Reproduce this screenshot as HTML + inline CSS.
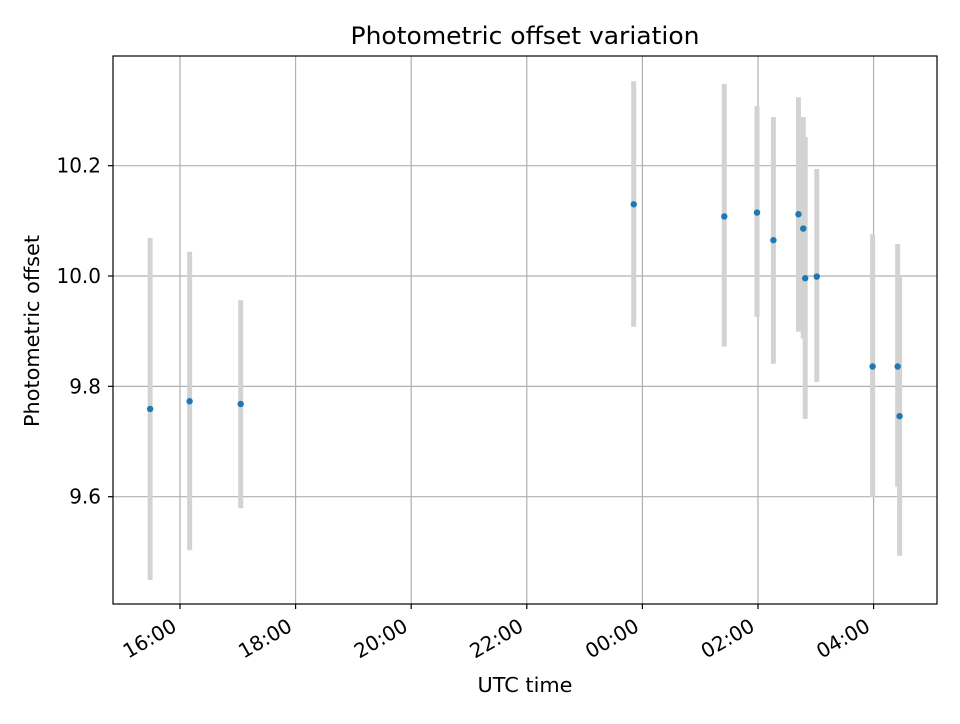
<!DOCTYPE html>
<html><head><meta charset="utf-8"><style>
body{margin:0;background:#fff;font-family:"DejaVu Sans","Liberation Sans",sans-serif}
svg text{font-family:"DejaVu Sans","Liberation Sans",sans-serif}
</style></head><body>
<svg width="960" height="720" xmlns="http://www.w3.org/2000/svg">
<rect width="960" height="720" fill="#fff"/>
<g id="grid"></g>
<g id="bars"></g>
<g id="pts"></g>
<rect x="113" y="56" width="824" height="548" fill="none" stroke="#000" stroke-width="1.2"/>
<g id="ticks"></g>
<text x="525" y="44" font-size="24" text-anchor="middle" textLength="349" lengthAdjust="spacingAndGlyphs">Photometric offset variation</text>
<text x="525" y="692" font-size="20" text-anchor="middle" textLength="95" lengthAdjust="spacingAndGlyphs">UTC time</text>
<text x="39" y="331" font-size="20" text-anchor="middle" transform="rotate(-90 39 331)" textLength="192" lengthAdjust="spacingAndGlyphs">Photometric offset</text>
</svg>
<script>
const times = ["15:29","16:10","17:03","23:51","01:25","01:59","02:16","02:42","02:47","02:49","03:01","03:59","04:25","04:27"];
const offsets = [9.759,9.773,9.768,10.130,10.108,10.115,10.065,10.112,10.086,9.996,9.999,9.836,9.836,9.746];
const upper = [10.069,10.044,9.956,10.353,10.348,10.308,10.288,10.324,10.288,10.252,10.194,10.076,10.058,10.000];
const lower = [9.449,9.503,9.579,9.908,9.872,9.926,9.841,9.899,9.887,9.741,9.808,9.599,9.618,9.493];
const xTickLabels = ["16:00","18:00","20:00","22:00","00:00","02:00","04:00"];
const yTickValues = [9.6,9.8,10.0,10.2];

const NS="http://www.w3.org/2000/svg";
function hrs(s){let [h,m]=s.split(":").map(Number);let v=h+m/60-16;if(v<-4)v+=24;return v;}
const X0=113,X1=937,Y0=56,Y1=604,xmin=-1.159,xmax=13.097,ymin=9.4055,ymax=10.3988;
const sx=v=>X0+(v-xmin)/(xmax-xmin)*(X1-X0);
const sy=v=>Y1-(v-ymin)/(ymax-ymin)*(Y1-Y0);
function mk(tag,attrs,parent){const e=document.createElementNS(NS,tag);for(const k in attrs)e.setAttribute(k,attrs[k]);document.getElementById(parent).appendChild(e);return e;}
xTickLabels.forEach(l=>{
  const x=sx(hrs(l));
  const g=mk("line",{x1:x,x2:x,y1:Y0,y2:Y1,stroke:"#b0b0b0","stroke-width":1.2},"grid");
  
  
  const t=mk("line",{x1:x,x2:x,y1:Y1,y2:Y1+5,stroke:"#000","stroke-width":1.2},"ticks");
  
  
  const ax=x-2, ay=Y1+26;
  const tx=mk("text",{x:ax,y:ay,"font-size":20,"text-anchor":"end",transform:`rotate(-30 ${ax} ${ay})`},"ticks");
  tx.textContent=l;
  
  
});
yTickValues.forEach(v=>{
  const y=sy(v);
  const g=mk("line",{x1:X0,x2:X1,y1:y,y2:y,stroke:"#b0b0b0","stroke-width":1.2},"grid");
  
  
  const t=mk("line",{x1:X0-5,x2:X0,y1:y,y2:y,stroke:"#000","stroke-width":1.2},"ticks");
  
  
  const tx=mk("text",{x:X0-12,y:y+7,"font-size":20,"text-anchor":"end"},"ticks");
  tx.textContent=v.toFixed(1);
  
  
});
times.forEach((s,i)=>{
  const x=sx(hrs(s));
  const b=mk("line",{x1:x,x2:x,y1:sy(upper[i]),y2:sy(lower[i]),stroke:"#d3d3d3","stroke-width":5},"bars");
  
  
  const c=mk("circle",{cx:x,cy:sy(offsets[i]),r:3.2,fill:"#1f77b4"},"pts");
  
  
});
</script>
</body></html>
